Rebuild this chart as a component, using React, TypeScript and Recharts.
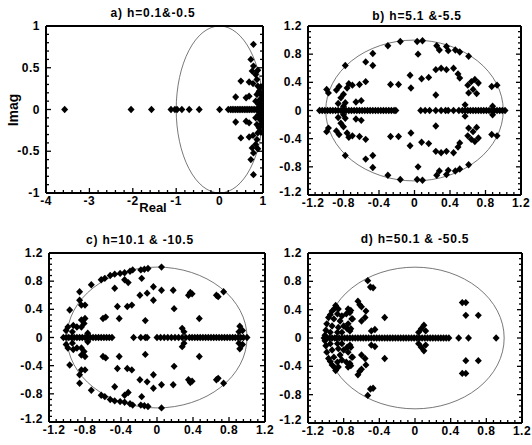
import React from 'react';
import { ScatterChart, Scatter, XAxis, YAxis, ReferenceArea } from 'recharts';

type Pt = { x: number; y: number };
type Pair = [number, number];

const W = 532;
const H = 445;
const FONT = '"Liberation Sans", Arial, Helvetica, sans-serif';

// axis ticks
const A_X_MAJOR = [-4, -3, -2, -1, 0, 1];
const A_Y_MAJOR = [-1, -0.5, 0, 0.5, 1];
const UNIT_MAJOR = [-1.2, -0.8, -0.4, 0, 0.4, 0.8, 1.2];
const UNIT = [-1, 1];

// a) h=0.1 & -0.5 : real roots, then complex roots as [re, |im|] conjugate pairs
const A_REAL = [-3.57, -2.04, -1.57, -1.12, -1.03, -0.98, -0.87, -0.7, -0.47, 0, 0.2, 0.25, 0.29, 0.33, 0.37, 0.41, 0.45,
  0.49, 0.53, 0.57, 0.61, 0.65, 0.69, 0.73, 0.77, 0.81, 0.85, 0.88, 0.91, 0.94, 0.96, 0.98, 1.0];
const A_PAIRS: Pair[] = [[0.78, 0.78], [0.72, 0.6], [0.78, 0.52], [0.75, 0.46], [0.83, 0.42], [0.86, 0.36], [0.49, 0.34],
  [0.68, 0.33], [0.77, 0.31], [0.88, 0.28], [0.37, 0.15], [0.61, 0.14], [0.68, 0.16], [0.86, 0.18], [0.91, 0.22],
  [0.93, 0.12], [0.96, 0.08], [0.97, 0.17], [0.99, 0.04], [0.95, 0.27], [0.9, 0.06], [0.83, 0.1], [0.88, 0.47]];

// b) h=5.1 & -5.5
const B_REAL = [-1.07, -1.04, -1.01, -0.98, -0.95, -0.92, -0.89, -0.86, -0.83, -0.8, -0.77, -0.74, -0.71, -0.68, -0.65,
  -0.62, -0.59, -0.56, -0.53, -0.5, -0.47, -0.44, -0.41, -0.38, -0.35, -0.32, -0.29, -0.26, -0.23, -0.21,
  0.07, 0.12, 0.17, 0.24, 0.3, 0.35, 0.38, 0.44, 0.5, 0.54, 0.57, 0.6, 0.63, 0.66, 0.69, 0.72, 0.75, 0.78, 0.81,
  0.84, 0.87, 0.9, 0.93, 0.96, 0.99, 1.02];
const B_PAIRS: Pair[] = [[-0.16, 0.98], [-0.3, 0.92], [-0.47, 0.81], [-0.55, 0.69], [-0.47, 0.64], [-0.78, 0.64],
  [-0.05, 0.5], [-0.27, 0.37], [-0.18, 0.37], [-0.04, 0.32], [-0.55, 0.41], [-0.62, 0.37], [-0.7, 0.36],
  [-0.74, 0.38], [-0.76, 0.32], [-0.85, 0.34], [-0.88, 0.29], [-0.97, 0.25], [-0.99, 0.3], [-0.66, 0.12], [-0.6, 0.14],
  [-0.83, 0.18], [-0.8, 0.06], [-0.78, 0.11], [-0.86, 0.1], [-0.8, 0.23],
  [0.03, 0.98], [0.09, 0.99], [0.25, 0.92], [0.28, 0.86], [0.36, 0.91], [0.38, 0.85], [0.46, 0.86], [0.51, 0.83],
  [0.61, 0.77], [0.04, 0.8], [0.08, 0.45], [0.16, 0.47], [0.24, 0.22], [0.24, 0.58], [0.3, 0.6], [0.36, 0.58],
  [0.44, 0.6], [0.49, 0.52], [0.51, 0.46], [0.6, 0.36], [0.64, 0.41], [0.68, 0.44], [0.66, 0.3], [0.61, 0.25],
  [0.72, 0.39], [0.87, 0.34], [0.93, 0.36], [0.57, 0.08], [0.88, 0.06], [0.7, 0.24]];

// c) h=10.1 & -10.5
const C_REAL = [-1.04, -1.01, -0.98, -0.95, -0.92, -0.89, -0.86, -0.83, -0.8, -0.77, -0.74, -0.71, -0.68, -0.65, -0.62,
  -0.59, -0.56, -0.53, -0.5, -0.26, -0.18, -0.13, -0.11, 0, 0.04, 0.08, 0.12, 0.16, 0.2, 0.24, 0.28, 0.32, 0.36,
  0.39, 0.42, 0.45, 0.48, 0.51, 0.54, 0.57, 0.6, 0.63, 0.66, 0.69, 0.72, 0.75, 0.78, 0.81, 0.84, 0.87, 0.9, 0.93,
  0.96, 1.0];
const C_PAIRS: Pair[] = [[0.05, 1.0], [-0.1, 0.98], [-0.14, 0.97], [-0.18, 0.96], [-0.27, 0.96], [-0.3, 0.94],
  [-0.36, 0.92], [-0.41, 0.91], [-0.47, 0.9], [-0.52, 0.88], [-0.58, 0.84], [-0.62, 0.82], [-0.73, 0.75],
  [-0.86, 0.65], [-0.47, 0.7], [-0.36, 0.82], [-0.32, 0.78], [-0.17, 0.84], [-0.04, 0.72], [0.05, 0.67],
  [0.18, 0.67], [0.35, 0.6], [0.37, 0.64], [0.39, 0.62], [-0.19, 0.6], [-0.11, 0.63], [-0.04, 0.53], [-0.28, 0.46],
  [-0.33, 0.44], [-0.44, 0.44], [-0.57, 0.29], [-0.6, 0.27], [-0.42, 0.27], [-0.13, 0.24], [0.19, 0.41],
  [0.47, 0.27], [0.28, 0.13], [0.3, 0.08], [0.66, 0.6], [0.68, 0.58], [0.74, 0.65], [0.92, 0.16], [0.95, 0.1],
  [0.91, 0.08], [-0.97, 0.39], [-0.84, 0.46], [-0.86, 0.53], [-0.8, 0.46], [-0.84, 0.25], [-0.8, 0.27],
  [-0.99, 0.15], [-0.93, 0.17], [-0.89, 0.15], [-1.01, 0.1], [-0.94, 0.08], [-0.84, 0.15], [-0.81, 0.2],
  [-0.77, 0.06]];

// d) h=50.1 & -50.5
const D_REAL = [-1.02, -0.99, -0.96, -0.93, -0.9, -0.88, -0.85, -0.82, -0.79, -0.76, -0.73, -0.7, -0.67, -0.64, -0.61,
  -0.58, -0.55, -0.52, -0.49, -0.46, -0.43, -0.4, -0.37, -0.34, -0.31, -0.28, -0.25, -0.22, -0.19, -0.16, -0.13,
  -0.1, -0.07, -0.04, -0.01, 0.02, 0.05, 0.08, 0.11, 0.14, 0.17, 0.2, 0.23, 0.26, 0.29, 0.32, 0.35, 0.38, 0.49,
  0.6, 0.91];
const D_PAIRS: Pair[] = [[-0.53, 0.81], [-0.5, 0.72], [-0.47, 0.71], [-0.64, 0.52], [-0.62, 0.47], [-0.6, 0.44],
  [-0.55, 0.38], [-0.56, 0.29], [-0.6, 0.24], [-0.34, 0.29], [-0.49, 0.1], [-0.45, 0.12], [-0.72, 0.39],
  [-0.7, 0.27], [-0.72, 0.13], [0.07, 0.13], [0.1, 0.18], [0.04, 0.08], [0.12, 0.1], [0.53, 0.5], [0.57, 0.5],
  [0.57, 0.32], [0.71, 0.32], [-0.89, 0.46], [-0.93, 0.38], [-0.97, 0.29], [-0.99, 0.2], [-1.0, 0.11],
  [-1.01, 0.04], [-0.86, 0.41], [-0.87, 0.34], [-0.91, 0.27], [-0.93, 0.17], [-0.95, 0.08], [-0.82, 0.31],
  [-0.84, 0.24], [-0.86, 0.15], [-0.87, 0.08], [-0.8, 0.17], [-0.82, 0.08], [-0.77, 0.34], [-0.75, 0.41],
  [-0.73, 0.36], [-0.71, 0.27], [-0.75, 0.2], [-0.76, 0.13], [-0.73, 0.1], [-0.9, 0.42], [-0.95, 0.33]];

function toPoints(real: number[], pairs: Pair[]): Pt[] {
  return [
    ...real.map((x) => ({ x, y: 0 })),
    ...pairs.flatMap(([x, y]) => [{ x, y }, { x, y: -y }]),
  ];
}

// major ticks with 4 minor ticks in between
function withMinor(major: number[]) {
  const out: number[] = [];
  for (let i = 0; i < major.length - 1; i++) {
    const step = (major[i + 1] - major[i]) / 5;
    for (let k = 0; k < 5; k++) out.push(+(major[i] + k * step).toFixed(4));
  }
  out.push(major[major.length - 1]);
  return out;
}

const GAP = 4;

function makeTick(side: 'bottom' | 'top' | 'left' | 'right', majors: number[], label: boolean, nudge = false) {
  return (props: any) => {
    const { x, y, payload } = props;
    const v = payload.value;
    const major = majors.some((m) => Math.abs(m - v) < 1e-6);
    const first = Math.abs(v - majors[0]) < 1e-6;
    const len = major ? 5 : 3;
    let line;
    let text = null;
    if (side === 'bottom') {
      const e = y - GAP;
      const dx = nudge && first ? 5 : 0;
      line = <line x1={x} x2={x} y1={e} y2={e - len} stroke="#000" strokeWidth={1.3} />;
      if (label && major) text = <text x={x + dx} y={e + 12} textAnchor="middle">{String(v)}</text>;
    } else if (side === 'top') {
      const e = y + GAP;
      line = <line x1={x} x2={x} y1={e} y2={e + len} stroke="#000" strokeWidth={1.3} />;
    } else if (side === 'left') {
      const e = x + GAP;
      const dy = nudge && first ? -3 : 0;
      line = <line x1={e} x2={e + len} y1={y} y2={y} stroke="#000" strokeWidth={1.3} />;
      if (label && major) text = <text x={e - 6} y={y + 4 + dy} textAnchor="end">{String(v)}</text>;
    } else {
      const e = x - GAP;
      line = <line x1={e} x2={e - len} y1={y} y2={y} stroke="#000" strokeWidth={1.3} />;
    }
    return (
      <g fontFamily={FONT} fontWeight="bold" fontSize={12} letterSpacing={0.5} fill="#000">
        {line}
        {text}
      </g>
    );
  };
}

const Diamond = (props: any) => {
  const { cx, cy } = props;
  if (cx == null || cy == null) return null;
  return <path d={`M${cx},${cy - 3.7}L${cx + 3.5},${cy}L${cx},${cy + 3.7}L${cx - 3.5},${cy}Z`} fill="#000" />;
};

const Ring = (props: any) => {
  const { x, y, width, height } = props;
  return (
    <ellipse cx={x + width / 2} cy={y + height / 2} rx={Math.abs(width) / 2} ry={Math.abs(height) / 2}
      fill="none" stroke="#555" strokeWidth={0.8} />
  );
};

type PanelProps = {
  left: number; right: number; top: number; bottom: number;
  xMajor: number[]; yMajor: number[]; data: Pt[]; nudge?: boolean;
};

function Panel({ left, right, top, bottom, xMajor, yMajor, data, nudge = false }: PanelProps) {
  const xt = withMinor(xMajor);
  const yt = withMinor(yMajor);
  const xd = [xMajor[0], xMajor[xMajor.length - 1]];
  const yd = [yMajor[0], yMajor[yMajor.length - 1]];
  const axisLine = { stroke: '#000', strokeWidth: 2 };
  // each axis takes 1px, so the plot area lands on left/right/top/bottom
  return (
    <div style={{ position: 'absolute', left: 0, top: 0 }}>
      <ScatterChart width={W} height={H}
        margin={{ left: left - 1, top: top - 1, right: W - right - 1, bottom: H - bottom - 1 }}>
        <XAxis xAxisId="b" type="number" dataKey="x" orientation="bottom" height={1} domain={xd} ticks={xt}
          interval={0} allowDataOverflow tickSize={0} tickMargin={GAP} tickLine={false} axisLine={axisLine}
          tick={makeTick('bottom', xMajor, true, nudge)} />
        <XAxis xAxisId="t" type="number" orientation="top" height={1} domain={xd} ticks={xt}
          interval={0} allowDataOverflow tickSize={0} tickMargin={GAP} tickLine={false} axisLine={axisLine}
          tick={makeTick('top', xMajor, false)} />
        <YAxis yAxisId="l" type="number" dataKey="y" orientation="left" width={1} domain={yd} ticks={yt}
          interval={0} allowDataOverflow tickSize={0} tickMargin={GAP} tickLine={false} axisLine={axisLine}
          tick={makeTick('left', yMajor, true, nudge)} />
        <YAxis yAxisId="r" type="number" orientation="right" width={1} domain={yd} ticks={yt}
          interval={0} allowDataOverflow tickSize={0} tickMargin={GAP} tickLine={false} axisLine={axisLine}
          tick={makeTick('right', yMajor, false)} />
        <ReferenceArea xAxisId="b" yAxisId="l" x1={UNIT[0]} x2={UNIT[1]} y1={UNIT[0]} y2={UNIT[1]}
          shape={Ring} ifOverflow="visible" />
        <Scatter xAxisId="b" yAxisId="l" data={data} shape={Diamond} isAnimationActive={false} />
      </ScatterChart>
    </div>
  );
}

const titleStyle = { fontFamily: FONT, fontWeight: 'bold' as const, fontSize: 12, letterSpacing: 0.8 };

export default function App() {
  return (
    <div style={{ position: 'absolute', left: 0, top: 0, width: W, height: H, background: '#fff', overflow: 'hidden' }}>
      <Panel left={46} right={263} top={26} bottom={193} xMajor={A_X_MAJOR} yMajor={A_Y_MAJOR}
        data={toPoints(A_REAL, A_PAIRS)} />
      <Panel left={308} right={521} top={26} bottom={195} xMajor={UNIT_MAJOR} yMajor={UNIT_MAJOR}
        data={toPoints(B_REAL, B_PAIRS)} nudge />
      <Panel left={49} right={265} top={253} bottom={422} xMajor={UNIT_MAJOR} yMajor={UNIT_MAJOR}
        data={toPoints(C_REAL, C_PAIRS)} nudge />
      <Panel left={308} right={522} top={253} bottom={423} xMajor={UNIT_MAJOR} yMajor={UNIT_MAJOR}
        data={toPoints(D_REAL, D_PAIRS)} nudge />
      <svg width={W} height={H} style={{ position: 'absolute', left: 0, top: 0, pointerEvents: 'none' }}>
        <text x={153} y={17} textAnchor="middle" {...titleStyle}>a) h=0.1&amp;-0.5</text>
        <text x={417} y={20} textAnchor="middle" {...titleStyle}>b) h=5.1 &amp;-5.5</text>
        <text x={140} y={244} textAnchor="middle" {...titleStyle}>c) h=10.1 &amp; -10.5</text>
        <text x={415} y={243} textAnchor="middle" {...titleStyle}>d) h=50.1 &amp; -50.5</text>
        <text x={153} y={212} textAnchor="middle" fontFamily={FONT} fontWeight="bold" fontSize={13}>Real</text>
        <text x={0} y={0} transform="translate(18,110) rotate(-90)" textAnchor="middle" fontFamily={FONT}
          fontWeight="bold" fontSize={14}>Imag</text>
      </svg>
    </div>
  );
}
